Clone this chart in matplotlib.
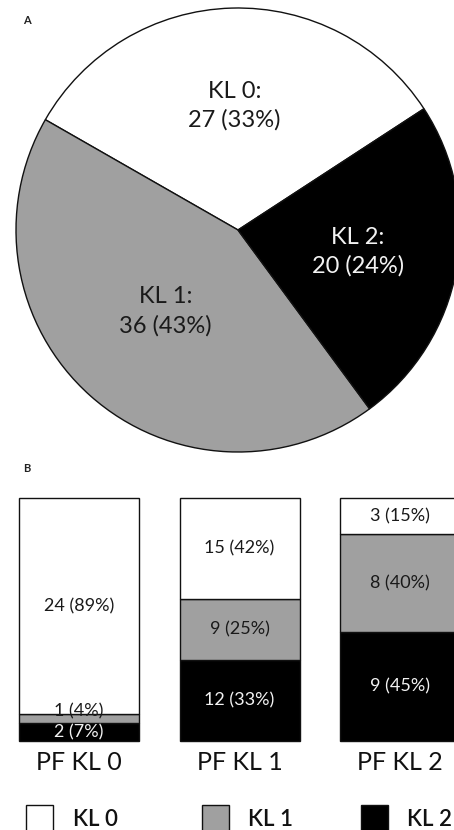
import matplotlib
matplotlib.use("Agg")
import matplotlib.pyplot as plt
from matplotlib.patches import Rectangle
import numpy as np

plt.rcParams['font.family'] = ['Lato', 'DejaVu Sans']

# ---- data ----
pie_labels = ["KL 0", "KL 1", "KL 2"]
pie_counts = [27, 36, 20]
colors = ["#ffffff", "#a0a0a0", "#000000"]
text_colors = ["#1a1a1a", "#1a1a1a", "#f2f2f2"]

bar_categories = ["PF KL 0", "PF KL 1", "PF KL 2"]
kl0_counts = [24, 15, 3]
kl1_counts = [1, 9, 8]
kl2_counts = [2, 12, 9]

W, H = 454, 830
fig = plt.figure(figsize=(W / 100, H / 100), dpi=100)

# ---- Panel A: pie ----
cx, cy, R = 238, 230, 222
axp = fig.add_axes([(cx - R) / W, (H - cy - R) / H, 2 * R / W, 2 * R / H])
wedges, _ = axp.pie(pie_counts, colors=colors, startangle=33.1, counterclock=True,
                    wedgeprops=dict(edgecolor="#111111", linewidth=1.0))
for w in wedges:
    w.set_clip_on(False)
axp.set_xlim(-1, 1)
axp.set_ylim(-1, 1)
axp.set_aspect('auto')
axp.axis('off')
total = sum(pie_counts)
label_r = [0.56, 0.49, 0.55]
for i, w in enumerate(wedges):
    th = np.deg2rad((w.theta1 + w.theta2) / 2)
    r = label_r[i]
    pct = round(pie_counts[i] / total * 100)
    axp.text(r * np.cos(th), r * np.sin(th),
             f"{pie_labels[i]}:\n{pie_counts[i]} ({pct}%)",
             ha='center', va='center', fontsize=17, color=text_colors[i],
             linespacing=1.45)

# ---- Panel B: stacked bars ----
bar_top, bar_bot = 498, 741
spacing = 160.5
x0 = 79
axb = fig.add_axes([0, (H - bar_bot) / H, 1, (bar_bot - bar_top) / H])
axb.set_xlim(-x0 / spacing, (W - x0) / spacing)
axb.set_ylim(0, 1)
axb.axis('off')
xs = np.arange(len(bar_categories))
tots = np.array(kl0_counts) + np.array(kl1_counts) + np.array(kl2_counts)
stack = [kl2_counts, kl1_counts, kl0_counts]
stack_colors = [colors[2], colors[1], colors[0]]
stack_text = [text_colors[2], text_colors[1], text_colors[0]]
bottom = np.zeros(len(xs))
for k, counts in enumerate(stack):
    frac = np.array(counts) / tots
    bars = axb.bar(xs, frac, bottom=bottom, width=120 / spacing,
                   color=stack_colors[k], edgecolor="#111111", linewidth=1.0)
    for b in bars:
        b.set_clip_on(False)
    for j in range(len(xs)):
        pct = round(counts[j] / tots[j] * 100)
        yc = bottom[j] + frac[j] / 2
        if frac[j] < 0.06 and k == 1:
            yc += 0.03
        axb.text(xs[j], yc, f"{counts[j]} ({pct}%)", ha='center', va='center',
                 fontsize=13, color=stack_text[k], clip_on=False)
    bottom += frac
for j, c in enumerate(bar_categories):
    axb.text(xs[j], -21 / (bar_bot - bar_top), c, ha='center', va='center',
             fontsize=18, color="#111111", clip_on=False)

# ---- overlay: panel letters and legend ----
axo = fig.add_axes([0, 0, 1, 1])
axo.set_xlim(0, W)
axo.set_ylim(H, 0)
axo.axis('off')
axo.text(27, 20, "A", fontsize=8, fontweight='bold', ha='center', va='center', color="#222222")
axo.text(27, 468, "B", fontsize=8, fontweight='bold', ha='center', va='center', color="#222222")
leg_box_x = [26, 202, 361]
leg_text_x = [73, 248, 407]
for i, lab in enumerate(pie_labels):
    axo.add_patch(Rectangle((leg_box_x[i], 805), 27, 27, facecolor=colors[i],
                            edgecolor="#111111", linewidth=1.0))
    axo.text(leg_text_x[i], 819, lab, fontsize=16, fontweight='semibold',
             ha='left', va='center', color="#111111")

fig.savefig("out.png", dpi=100)
